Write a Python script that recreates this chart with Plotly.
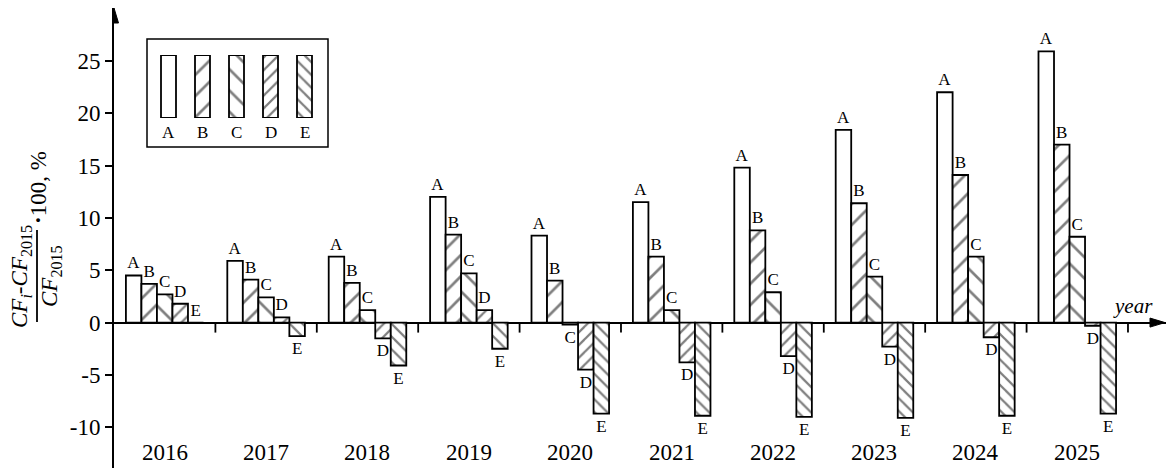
import plotly.graph_objects as go

# ---- data ----
years = ["2016", "2017", "2018", "2019", "2020", "2021", "2022", "2023", "2024", "2025"]
series_names = ["A", "B", "C", "D", "E"]
A = [4.5, 5.9, 6.3, 12.0, 8.3, 11.5, 14.8, 18.4, 22.0, 25.9]
B = [3.7, 4.1, 3.8, 8.4, 4.0, 6.3, 8.8, 11.4, 14.1, 17.0]
C = [2.7, 2.4, 1.2, 4.7, -0.2, 1.2, 2.9, 4.4, 6.3, 8.2]
D = [1.8, 0.5, -1.5, 1.2, -4.5, -3.8, -3.2, -2.3, -1.4, -0.3]
E = [0.0, -1.3, -4.1, -2.5, -8.7, -8.9, -9.0, -9.1, -8.9, -8.7]
y_tickvals = [-10, -5, 0, 5, 10, 15, 20, 25]
y_ticktext = ["-10", "-5", "0", "5", "10", "15", "20", "25"]

# ---- styling ----
FONT = "Liberation Serif"
W, H = 1166, 468
ML, MT = 114, 8
PW, PH = W - ML, H - MT
patterns = {"A": ("", 15, 0.1), "B": ("/", 15, 0.18), "C": ("\\", 15, 0.18),
            "D": ("/", 9, 0.25), "E": ("\\", 9, 0.25)}
YMIN, YMAX = -13.89, 30.05
XMIN, XMAX = -0.5, len(years) - 0.5 + 0.375


def px_x(px):
    return (px - ML) / PW


def px_y(py):
    return (H - py) / PH


fig = go.Figure()
values = {"A": A, "B": B, "C": C, "D": D, "E": E}
for name in series_names:
    shp, sz, sol = patterns[name]
    fig.add_trace(go.Bar(
        x=years, y=values[name], name=name,
        text=[name] * len(years), textposition="outside",
        textfont=dict(family=FONT, size=17, color="black"),
        constraintext="none", cliponaxis=False,
        marker=dict(color="white", line=dict(color="black", width=1.8),
                    pattern=dict(shape=shp, size=sz, solidity=sol,
                                 fgcolor="black", bgcolor="white", fillmode="overlay")),
        showlegend=False, hoverinfo="skip",
    ))

# inset legend (swatches as bars on an inset axis)
fig.add_trace(go.Bar(
    x=series_names, y=[1] * len(series_names), width=15 / 34,
    xaxis="x2", yaxis="y2",
    marker=dict(color="white", line=dict(color="black", width=1.8),
                pattern=dict(shape=[patterns[n][0] for n in series_names],
                             size=[patterns[n][1] for n in series_names],
                             solidity=[patterns[n][2] for n in series_names],
                             fgcolor="black", bgcolor="white", fillmode="overlay")),
    showlegend=False, hoverinfo="skip",
))

shapes = []
# group boundary ticks on the zero line
for i in range(len(years)):
    shapes.append(dict(type="line", xref="x", yref="y", x0=i + 0.5, x1=i + 0.5,
                       ysizemode="pixel", yanchor=0, y0=0, y1=-10,
                       line=dict(color="black", width=1.8)))
# arrows
shapes.append(dict(type="path", xref="x", yref="y", xsizemode="pixel", ysizemode="pixel",
                   xanchor=XMIN, yanchor=YMAX, path="M -4.5,-15 L 4.5,-15 L 0,0 Z",
                   fillcolor="black", line=dict(color="black", width=1)))
shapes.append(dict(type="path", xref="x", yref="y", xsizemode="pixel", ysizemode="pixel",
                   xanchor=XMAX, yanchor=0, path="M -16,4.5 L -16,-4.5 L -1,0 Z",
                   fillcolor="black", line=dict(color="black", width=1)))
# legend box
shapes.append(dict(type="rect", xref="paper", yref="paper",
                   x0=px_x(147), x1=px_x(328), y0=px_y(147), y1=px_y(39),
                   line=dict(color="black", width=1.5), fillcolor="rgba(0,0,0,0)"))
# fraction bar of y-axis title
shapes.append(dict(type="line", xref="paper", yref="paper",
                   x0=px_x(37), x1=px_x(37), y0=px_y(322), y1=px_y(230),
                   line=dict(color="black", width=1.8)))

annotations = []
for i, yr in enumerate(years):
    annotations.append(dict(x=i, xref="x", y=px_y(452), yref="paper", text=yr,
                            showarrow=False, xanchor="center", yanchor="middle",
                            font=dict(family=FONT, size=23, color="black")))
for name in series_names:
    annotations.append(dict(x=name, xref="x2", y=px_y(132), yref="paper", text=name,
                            showarrow=False, xanchor="center", yanchor="middle",
                            font=dict(family=FONT, size=17, color="black")))
annotations.append(dict(x=px_x(1133), y=px_y(306), xref="paper", yref="paper",
                        text="<i>year</i>", showarrow=False, xanchor="center", yanchor="middle",
                        font=dict(family=FONT, size=21, color="black")))
annotations.append(dict(x=px_x(21), y=px_y(277), xref="paper", yref="paper", textangle=-90,
                        text="<i>CF<sub>i</sub></i>-<i>CF</i><sub>2015</sub>", showarrow=False,
                        xanchor="center", yanchor="middle",
                        font=dict(family=FONT, size=23, color="black")))
annotations.append(dict(x=px_x(51), y=px_y(276), xref="paper", yref="paper", textangle=-90,
                        text="<i>CF</i><sub>2015</sub>", showarrow=False,
                        xanchor="center", yanchor="middle",
                        font=dict(family=FONT, size=23, color="black")))
annotations.append(dict(x=px_x(39), y=px_y(188), xref="paper", yref="paper", textangle=-90,
                        text="<b>·</b>100, %", showarrow=False,
                        xanchor="center", yanchor="middle",
                        font=dict(family=FONT, size=23, color="black")))

fig.update_layout(
    width=W, height=H,
    margin=dict(l=ML, r=0, t=MT, b=0, pad=0),
    paper_bgcolor="white", plot_bgcolor="white",
    barmode="group", bargap=0.235, bargroupgap=0,
    font=dict(family=FONT, color="black"),
    xaxis=dict(type="category", range=[XMIN, XMAX], showticklabels=False, showgrid=False,
               zeroline=False, showline=False, ticks="", fixedrange=True),
    yaxis=dict(range=[YMIN, YMAX], tickvals=y_tickvals, ticktext=y_ticktext,
               ticks="outside", ticklen=7, tickwidth=1.8, tickcolor="black",
               showline=True, linecolor="black", linewidth=2, showgrid=False,
               zeroline=True, zerolinecolor="black", zerolinewidth=2,
               tickfont=dict(family=FONT, size=23, color="black")),
    xaxis2=dict(domain=[px_x(151.5), px_x(321.5)], anchor="y2", type="category",
                showgrid=False, zeroline=False, showline=False, ticks="",
                showticklabels=False),
    yaxis2=dict(domain=[px_y(118), px_y(55)], anchor="x2", range=[0, 1], visible=False),
    shapes=shapes, annotations=annotations,
)

fig.write_html("out.html", config={"displayModeBar": False},
               post_script="document.body.style.margin='0';document.body.style.overflow='hidden';")
